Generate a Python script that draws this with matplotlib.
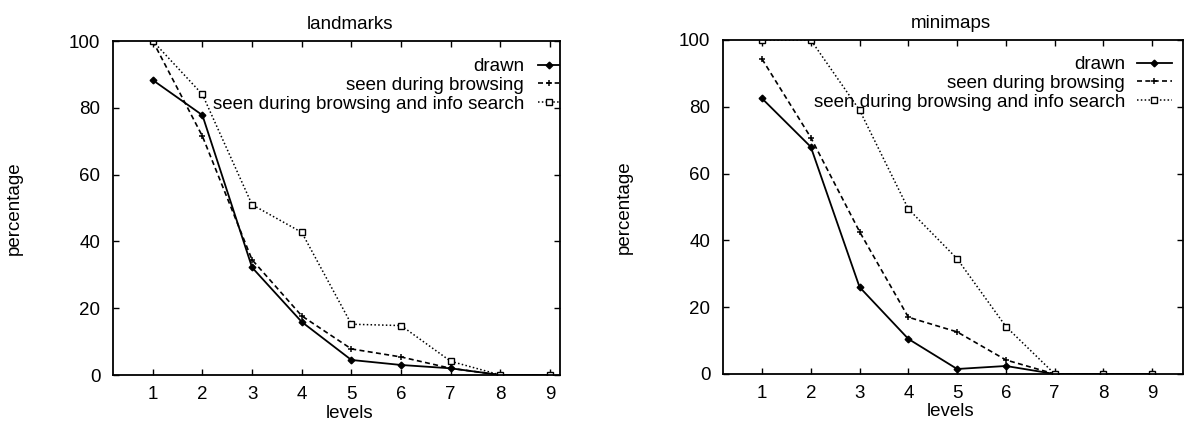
import numpy as np
import matplotlib
matplotlib.use("Agg")
import matplotlib.pyplot as plt

plt.rcParams['font.family'] = ['Liberation Sans', 'DejaVu Sans']
plt.rcParams['font.size'] = 13.5

levels = [1, 2, 3, 4, 5, 6, 7, 8, 9]
labels = ["drawn", "seen during browsing", "seen during browsing and info search"]

# landmarks
lm_drawn = [88.3, 77.8, 32.2, 15.9, 4.5, 3.0, 2.0, 0, 0]
lm_browse = [100, 71.5, 34.5, 17.7, 7.8, 5.4, 2.0, 0, 0]
lm_search = [100, 84.0, 51.0, 42.7, 15.2, 14.8, 4.1, 0, 0]

# minimaps
mm_drawn = [82.5, 68.0, 26.0, 10.5, 1.5, 2.4, 0, 0, 0]
mm_browse = [94.3, 70.8, 42.6, 17.0, 12.6, 4.2, 0, 0, 0]
mm_search = [100, 100, 79.0, 49.4, 34.5, 14.2, 0, 0, 0]

fig = plt.figure(figsize=(11.84, 4.21), dpi=100)
ax1 = fig.add_axes([113/1184, 1-375/421, 447/1184, 334/421])
ax2 = fig.add_axes([723/1184, 1-374/421, 460/1184, 334/421])

FS = 13.5


def draw(ax, d, b, s, title, title_x, xmax, handlelen, textpad, anchor):
    ax.plot(levels, d, color='black', lw=1.3, ls='-', marker='D', ms=3.4, label=labels[0])
    ax.plot(levels, b, color='black', lw=1.2, ls=(0, (3, 2)), marker='+', ms=5, mew=1.1, label=labels[1])
    ax.plot(levels, s, color='black', lw=1.1, ls=(0, (1, 1.5)), marker='s', ms=4.5,
            mfc='white', mew=1.0, label=labels[2])
    ax.set_xlim(0.2, xmax)
    ax.set_ylim(0, 100)
    ax.set_xticks(levels)
    ax.set_yticks(range(0, 101, 20))
    ax.tick_params(direction='in', length=4, width=1, top=True, right=True, labelsize=FS)
    ax.tick_params(axis='x', pad=8)
    ax.tick_params(axis='y', pad=9)
    for sp in ax.spines.values():
        sp.set_linewidth(1.3)
    ax.text(title_x, 1.023, title, transform=ax.transAxes, ha='center', va='bottom', fontsize=FS)
    ax.set_xlabel('levels', fontsize=FS, labelpad=1)
    ax.xaxis.label.set_x(title_x)
    ax.set_ylabel('percentage', fontsize=FS, labelpad=33)
    ax.legend(loc='upper right', bbox_to_anchor=anchor, frameon=False, markerfirst=False,
              handlelength=handlelen, handletextpad=textpad, labelspacing=0.09, borderpad=0,
              borderaxespad=0, fontsize=FS)


draw(ax1, lm_drawn, lm_browse, lm_search, 'landmarks', 0.53, 9.2, 1.12, 0.75, (0.998, 0.949))
draw(ax2, mm_drawn, mm_browse, mm_search, 'minimaps', 0.495, 9.63, 1.87, 0.64, (0.976, 0.952))

fig.savefig('out.png', dpi=100)
